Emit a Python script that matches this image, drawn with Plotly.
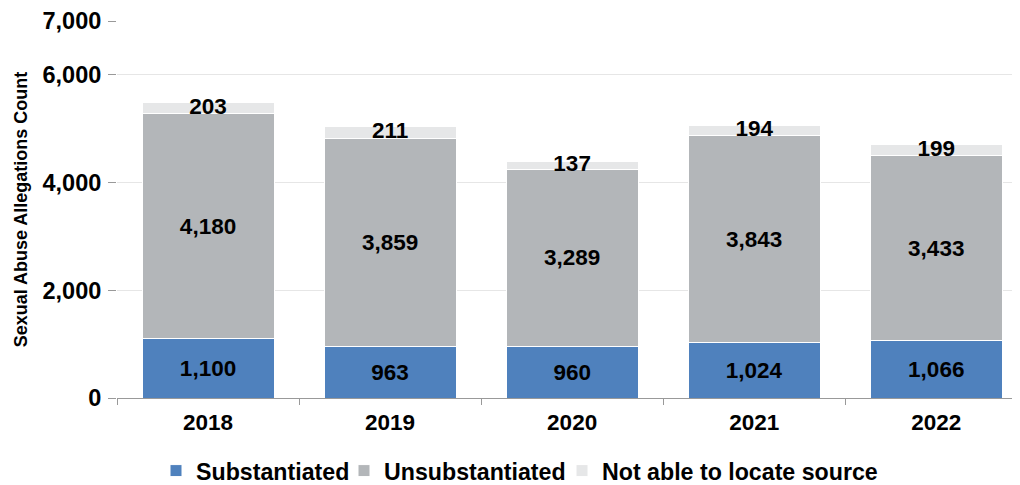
import plotly.graph_objects as go

years = ["2018", "2019", "2020", "2021", "2022"]
substantiated = [1100, 963, 960, 1024, 1066]
unsubstantiated = [4180, 3859, 3289, 3843, 3433]
not_located = [203, 211, 137, 194, 199]

FONT = "Liberation Sans, Arial, sans-serif"
LABEL_FONT = dict(family=FONT, size=22.5, color="black", weight="bold")
LEG_FONT = dict(family=FONT, size=23.2, color="black", weight="bold")
fig = go.Figure()

def fmt(v):
    return f"{v:,}"

fig.add_trace(go.Bar(
    x=years, y=substantiated, name="Substantiated", legend="legend",
    marker=dict(color="#4F81BD", line=dict(color="white", width=1)),
    text=[fmt(v) for v in substantiated], textposition="inside",
    insidetextanchor="middle", textfont=LABEL_FONT,
))
fig.add_trace(go.Bar(
    x=years, y=unsubstantiated, name="Unsubstantiated", legend="legend2",
    marker=dict(color="#B3B6B9", line=dict(color="white", width=1)),
    text=[fmt(v) for v in unsubstantiated], textposition="inside",
    insidetextanchor="middle", textfont=LABEL_FONT,
))
fig.add_trace(go.Bar(
    x=years, y=not_located, name="Not able to locate source", legend="legend3",
    marker=dict(color="#E6E7E8", line=dict(color="white", width=1)),
    textposition="none",
))
# labels for the thin top segment
tops = [s + u + n / 2 for s, u, n in zip(substantiated, unsubstantiated, not_located)]
fig.add_trace(go.Scatter(
    x=years, y=tops, mode="text", text=[fmt(v) for v in not_located],
    textfont=LABEL_FONT, showlegend=False, hoverinfo="skip",
))

W, H = 1012, 477
LEG_Y = 1 - 463 / H

def leg(px):
    return dict(orientation="h", xref="container", yref="container",
                x=px / W, xanchor="left", y=LEG_Y, yanchor="middle",
                font=LEG_FONT, itemwidth=30, bgcolor="rgba(0,0,0,0)")

fig.update_layout(
    barmode="stack", bargap=0.275,
    width=W, height=H,
    margin=dict(l=109, r=0, t=13, b=87),
    plot_bgcolor="white", paper_bgcolor="white",
    font=dict(family=FONT, color="black"),
    uniformtext=dict(minsize=22.5, mode="show"),
    legend=leg(148), legend2=leg(336), legend3=leg(554),
    xaxis=dict(
        range=[-0.5, 4.46], showline=True, linecolor="#999999", linewidth=1,
        ticks="outside", tickson="boundaries", ticklen=6, tickcolor="#999999",
        ticklabelstandoff=4,
        tickfont=dict(family=FONT, size=22.5, color="black", weight="bold"),
        showgrid=False, automargin=False,
    ),
    yaxis=dict(
        range=[0, 7000], tickvals=[0, 2000, 4000, 6000, 7000],
        tickformat=",", showgrid=True, gridcolor="#E6E6E6", gridwidth=1,
        ticks="outside", ticklen=8, tickcolor="#999999", ticklabelstandoff=2,
        ticklabeloverflow="allow",
        tickfont=dict(family=FONT, size=23.5, color="black", weight="bold"),
        zeroline=False, showline=False, automargin=False,
        title=dict(text="Sexual Abuse Allegations Count", standoff=10,
                   font=dict(family=FONT, size=18, color="black", weight="bold")),
    ),
)

fig.write_html("out.html")
